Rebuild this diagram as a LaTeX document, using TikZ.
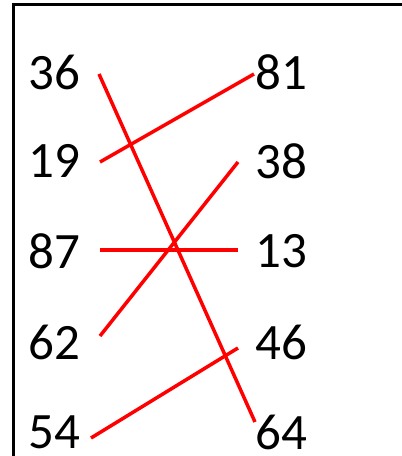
\documentclass[tikz,border=0pt]{standalone}
\usepackage{fontspec}
\setmainfont{Carlito}
\usetikzlibrary{positioning}

\begin{document}
\begin{tikzpicture}[
    x=1pt, y=-1pt,
    num/.style={inner sep=0pt, font=\fontsize{51}{60}\selectfont},
    match/.style={draw=red, line width=3.5pt},
    frame/.style={draw=black, line width=2.2pt}
]
\useasboundingbox (0,0) rectangle (402,456);

% Frame
\draw[frame] (13.5,456) -- (13.5,4.5) -- (402,4.5);

% Left column
\node[num] (l1) at (54,72) {36};
\node[num] (l2) at (54,161) {19};
\node[num] (l3) at (54,251) {87};
\node[num] (l4) at (54,342) {62};
\node[num] (l5) at (54,432) {54};

% Right column
\node[num] (r1) at (281,72) {81};
\node[num] (r2) at (281,161) {38};
\node[num] (r3) at (281,251) {13};
\node[num] (r4) at (281,342) {46};
\node[num] (r5) at (281,432) {64};

% Line ends
\coordinate (a1) at (99,74);
\coordinate (a2) at (100,162);
\coordinate (a3) at (100,250);
\coordinate (a4) at (100,336);
\coordinate (a5) at (91,438);
\coordinate (b1) at (254,74);
\coordinate (b2) at (238,162);
\coordinate (b3) at (238,250);
\coordinate (b4) at (238,348);
\coordinate (b5) at (255,422);

% Matches
\draw[match] (a1) -- (b5);
\draw[match] (a2) -- (b1);
\draw[match] (a3) -- (b3);
\draw[match] (a4) -- (b2);
\draw[match] (a5) -- (b4);

\end{tikzpicture}
\end{document}
